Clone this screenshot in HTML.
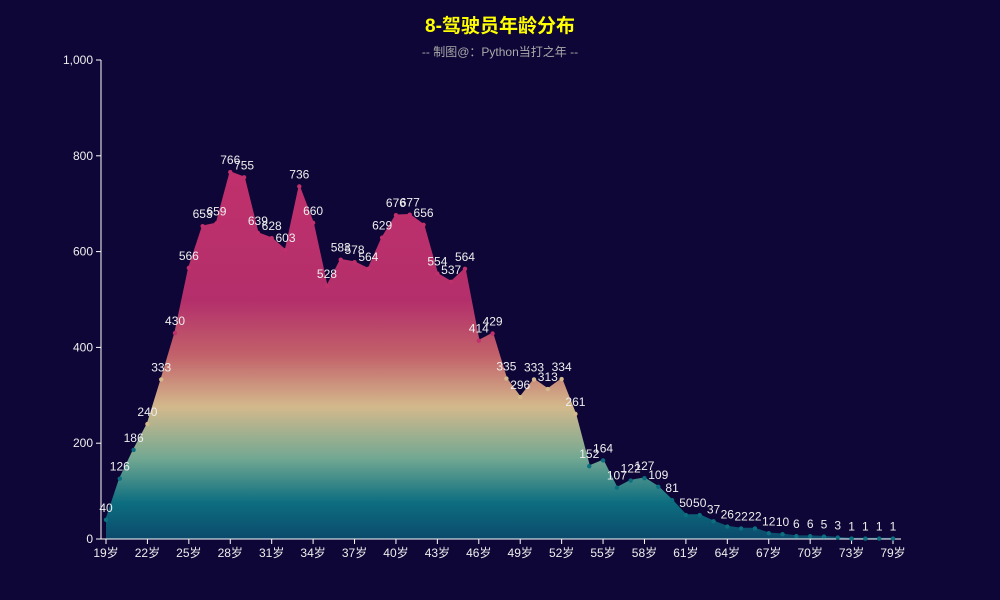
<!DOCTYPE html>
<html><head><meta charset="utf-8"><style>
body{margin:0;background:#0d0636;}
svg{display:block;font-family:"Liberation Sans","Noto Sans CJK SC",sans-serif;}
</style></head><body>
<svg id="c" width="1000" height="600">
<defs>
<linearGradient id="g" x1="0" y1="0" x2="0" y2="1" gradientUnits="objectBoundingBox">
<stop offset="0" stop-color="#c0306c"/>
<stop offset="0.35" stop-color="#b32f6b"/>
<stop offset="0.5" stop-color="#c2626a"/>
<stop offset="0.64" stop-color="#d3b98c"/>
<stop offset="0.78" stop-color="#72a892"/>
<stop offset="0.9" stop-color="#0d6e80"/>
<stop offset="1" stop-color="#0b4a6c"/>
</linearGradient>
</defs>
<rect width="1000" height="600" fill="#0d0636"/>
<text x="500" y="32" text-anchor="middle" fill="#ffff00" font-size="19" font-weight="bold">8-驾驶员年龄分布</text>
<text x="500" y="56" text-anchor="middle" fill="#aaaaaa" font-size="12">-- 制图@：Python当打之年 --</text>
<g id="plot"></g>
</svg>
<script>
const categories=["19岁","20岁","21岁","22岁","23岁","24岁","25岁","26岁","27岁","28岁","29岁","30岁","31岁","32岁","33岁","34岁","35岁","36岁","37岁","38岁","39岁","40岁","41岁","42岁","43岁","44岁","45岁","46岁","47岁","48岁","49岁","50岁","51岁","52岁","53岁","54岁","55岁","56岁","57岁","58岁","59岁","60岁","61岁","62岁","63岁","64岁","65岁","66岁","67岁","68岁","69岁","70岁","71岁","72岁","73岁","74岁","75岁","79岁"];
const values=[40,126,186,240,333,430,566,653,659,766,755,639,628,603,736,660,528,583,578,564,629,676,677,656,554,537,564,414,429,335,296,333,313,334,261,152,164,107,122,127,109,81,50,50,37,26,22,22,12,10,6,6,5,3,1,1,1,1];
const yTicks=[0,200,400,600,800,1000];
const yTickLabels=["0","200","400","600","800","1,000"];
const xLabelIdx=[0,3,6,9,12,15,18,21,24,27,30,33,36,39,42,45,48,51,54,57];

const X0=106,X1=893,Y0=539,Y1=60,YMAX=1000;
const step=(X1-X0)/(categories.length-1);
const xs=i=>X0+i*step;
const ys=v=>Y0-(v/YMAX)*(Y0-Y1);
const NS="http://www.w3.org/2000/svg";
const plot=document.getElementById('plot');
function mk(t,a){const e=document.createElementNS(NS,t);for(const k in a)e.setAttribute(k,a[k]);plot.appendChild(e);return e;}

// y axis
const ya=mk('line',{x1:X0-5,y1:Y0,x2:X0-5,y2:Y1,stroke:'#ffffff','stroke-width':1});


yTicks.forEach((t,i)=>{
  const tk=mk('line',{x1:X0-10,x2:X0-5,y1:ys(t),y2:ys(t),stroke:'#fff'});
  
  
  const tl=mk('text',{x:X0-13,y:ys(t)+4,'text-anchor':'end',fill:'#eeeeee','font-size':12});
  tl.textContent=yTickLabels[i];
  
  
});

// area
let d='M'+xs(0)+','+Y0;
values.forEach((v,i)=>{d+=' L'+xs(i)+','+ys(v);});
d+=' L'+xs(values.length-1)+','+Y0+' Z';
const area=mk('path',{d:d,fill:'url(#g)'});


let ld='';
values.forEach((v,i)=>{ld+=(i?' L':'M')+xs(i)+','+ys(v);});
const line=mk('path',{d:ld,fill:'none',stroke:'url(#g)','stroke-width':1.5});



// x axis
const xa=mk('line',{x1:X0-5,y1:Y0,x2:X1+8,y2:Y0,stroke:'#ffffff'});


xLabelIdx.forEach(i=>{
  const tk=mk('line',{x1:xs(i),x2:xs(i),y1:Y0,y2:Y0+5,stroke:'#fff'});
  
  
  const tl=mk('text',{x:xs(i),y:Y0+18,'text-anchor':'middle',fill:'#eeeeee','font-size':12});
  tl.textContent=categories[i];
  
  
});

// points and labels
values.forEach((v,i)=>{
  const c=mk('circle',{cx:xs(i),cy:ys(v),r:2.2,fill:v>400?'#c0306c':(v>200?'#d3b98c':'#0d6e80')});
  
  
  const t=mk('text',{x:xs(i),y:ys(v)-8,'text-anchor':'middle',fill:'#eeeeee','font-size':12});
  t.textContent=v;
  
  
});
</script>
</body></html>
